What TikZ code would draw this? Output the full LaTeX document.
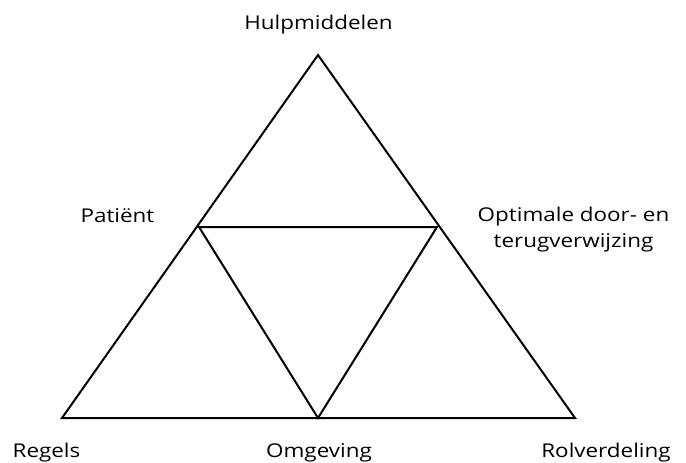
\documentclass[tikz,border=0pt]{standalone}
\usepackage{fontspec}
\setmainfont{Open Sans}
\newcommand\widetxt[1]{\scalebox{1.18}[1]{#1}}
\begin{document}
\begin{tikzpicture}[x=1pt,y=-1pt,
  lbl/.style={font=\fontsize{19}{26}\selectfont, inner sep=0pt, align=center, anchor=base},
  edge/.style={line width=2pt, line join=miter}]
\useasboundingbox (0,0) rectangle (686,463);
\coordinate (T) at (318,55);
\coordinate (L) at (62,418);
\coordinate (R) at (575,418);
\coordinate (ML) at (199,227);
\coordinate (MR) at (437,227);
\coordinate (MB) at (318,418);
\draw[edge] (T) -- (L) -- (R) -- cycle;
\draw[edge] (ML) -- (MR) -- (MB) -- cycle;
\node[lbl] (h) at (318.5,30) {\widetxt{Hulpmiddelen}};
\node[lbl] (p) at (117.5,222) {\widetxt{Patiënt}};
\node[lbl, anchor=center] (o) at (573.5,230) {\widetxt{Optimale door- en}\\\widetxt{terugverwijzing}};
\node[lbl] (r) at (46.5,457) {\widetxt{Regels}};
\node[lbl] (m) at (319,457) {\widetxt{Omgeving}};
\node[lbl] (v) at (606,457) {\widetxt{Rolverdeling}};
\end{tikzpicture}
\end{document}
